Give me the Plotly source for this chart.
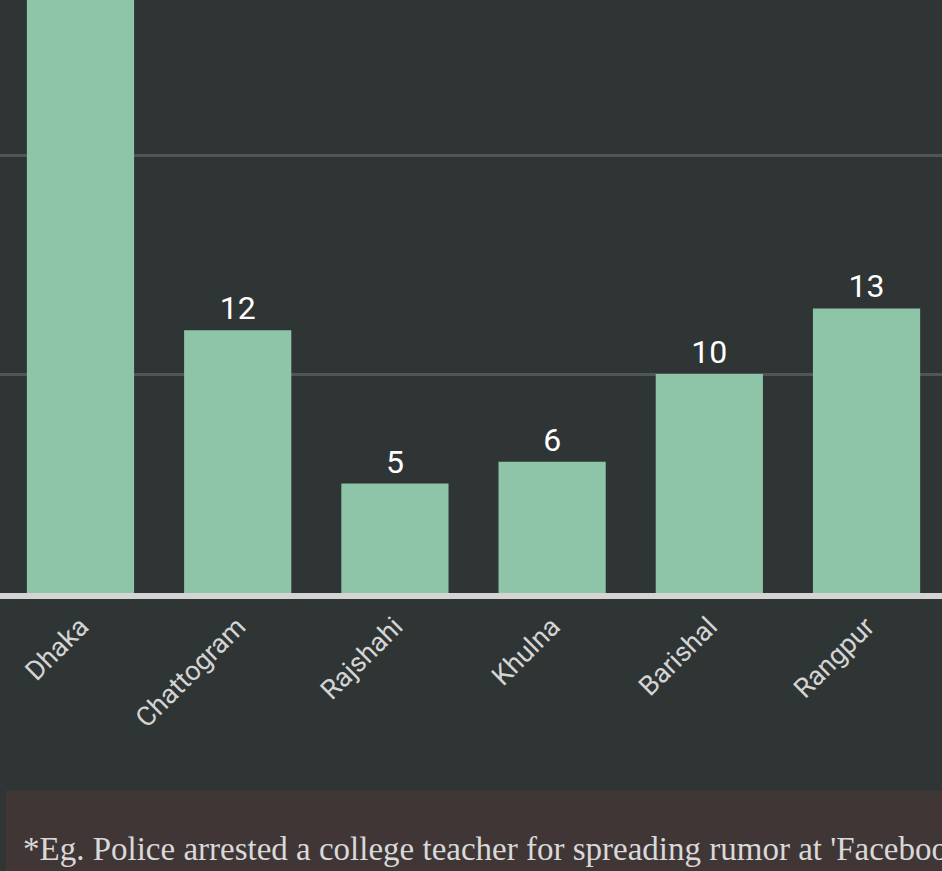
import plotly.graph_objects as go

divisions = ["Dhaka", "Chattogram", "Rajshahi", "Khulna", "Barishal", "Rangpur"]
cases = [38, 12, 5, 6, 10, 13]
footnote = "*Eg. Police arrested a college teacher for spreading rumor at 'Facebook'"

W, H = 942, 871
plot_bottom_px = 593.3
BG = "#2f3435"

fig = go.Figure()
fig.add_trace(go.Bar(
    x=divisions, y=cases,
    marker=dict(color="#8ec4a8", line=dict(width=0)),
    text=[str(v) for v in cases],
    textposition="outside",
    textfont=dict(family="Roboto", size=32, color="#ffffff"),
    cliponaxis=True,
))

def py(px):
    return (plot_bottom_px - px) / plot_bottom_px

fig.add_shape(type="rect", xref="paper", yref="paper",
              x0=6 / W, x1=1.05, y0=py(791), y1=py(880),
              fillcolor="#403636", line=dict(width=0), layer="below")

fig.add_annotation(xref="paper", yref="paper", x=21 / W, y=py(869),
                   xanchor="left", yanchor="bottom", showarrow=False,
                   text=footnote, align="left",
                   font=dict(family="Liberation Serif", size=33, color="#d9d9d9"))

fig.update_layout(
    width=W, height=H,
    margin=dict(l=0, r=0, t=0, b=H - plot_bottom_px, pad=0),
    paper_bgcolor=BG, plot_bgcolor=BG,
    bargap=0.318,
    showlegend=False,
    xaxis=dict(range=[-0.512, 5.48], showline=True, linecolor="#d4d4d4",
               linewidth=6, tickangle=-45, ticks="outside", ticklen=1,
               tickcolor="rgba(0,0,0,0)", showgrid=False,
               tickfont=dict(family="Roboto", size=27, color="#d4d4d4")),
    yaxis=dict(range=[0, 27.09], tickvals=[10, 20], showticklabels=False,
               gridcolor="#505555", gridwidth=2.5, zeroline=False,
               showline=False),
)

fig.write_html("out.html", config={"displayModeBar": False},
               post_script="document.body.style.margin='0';document.body.style.overflow='hidden';")
